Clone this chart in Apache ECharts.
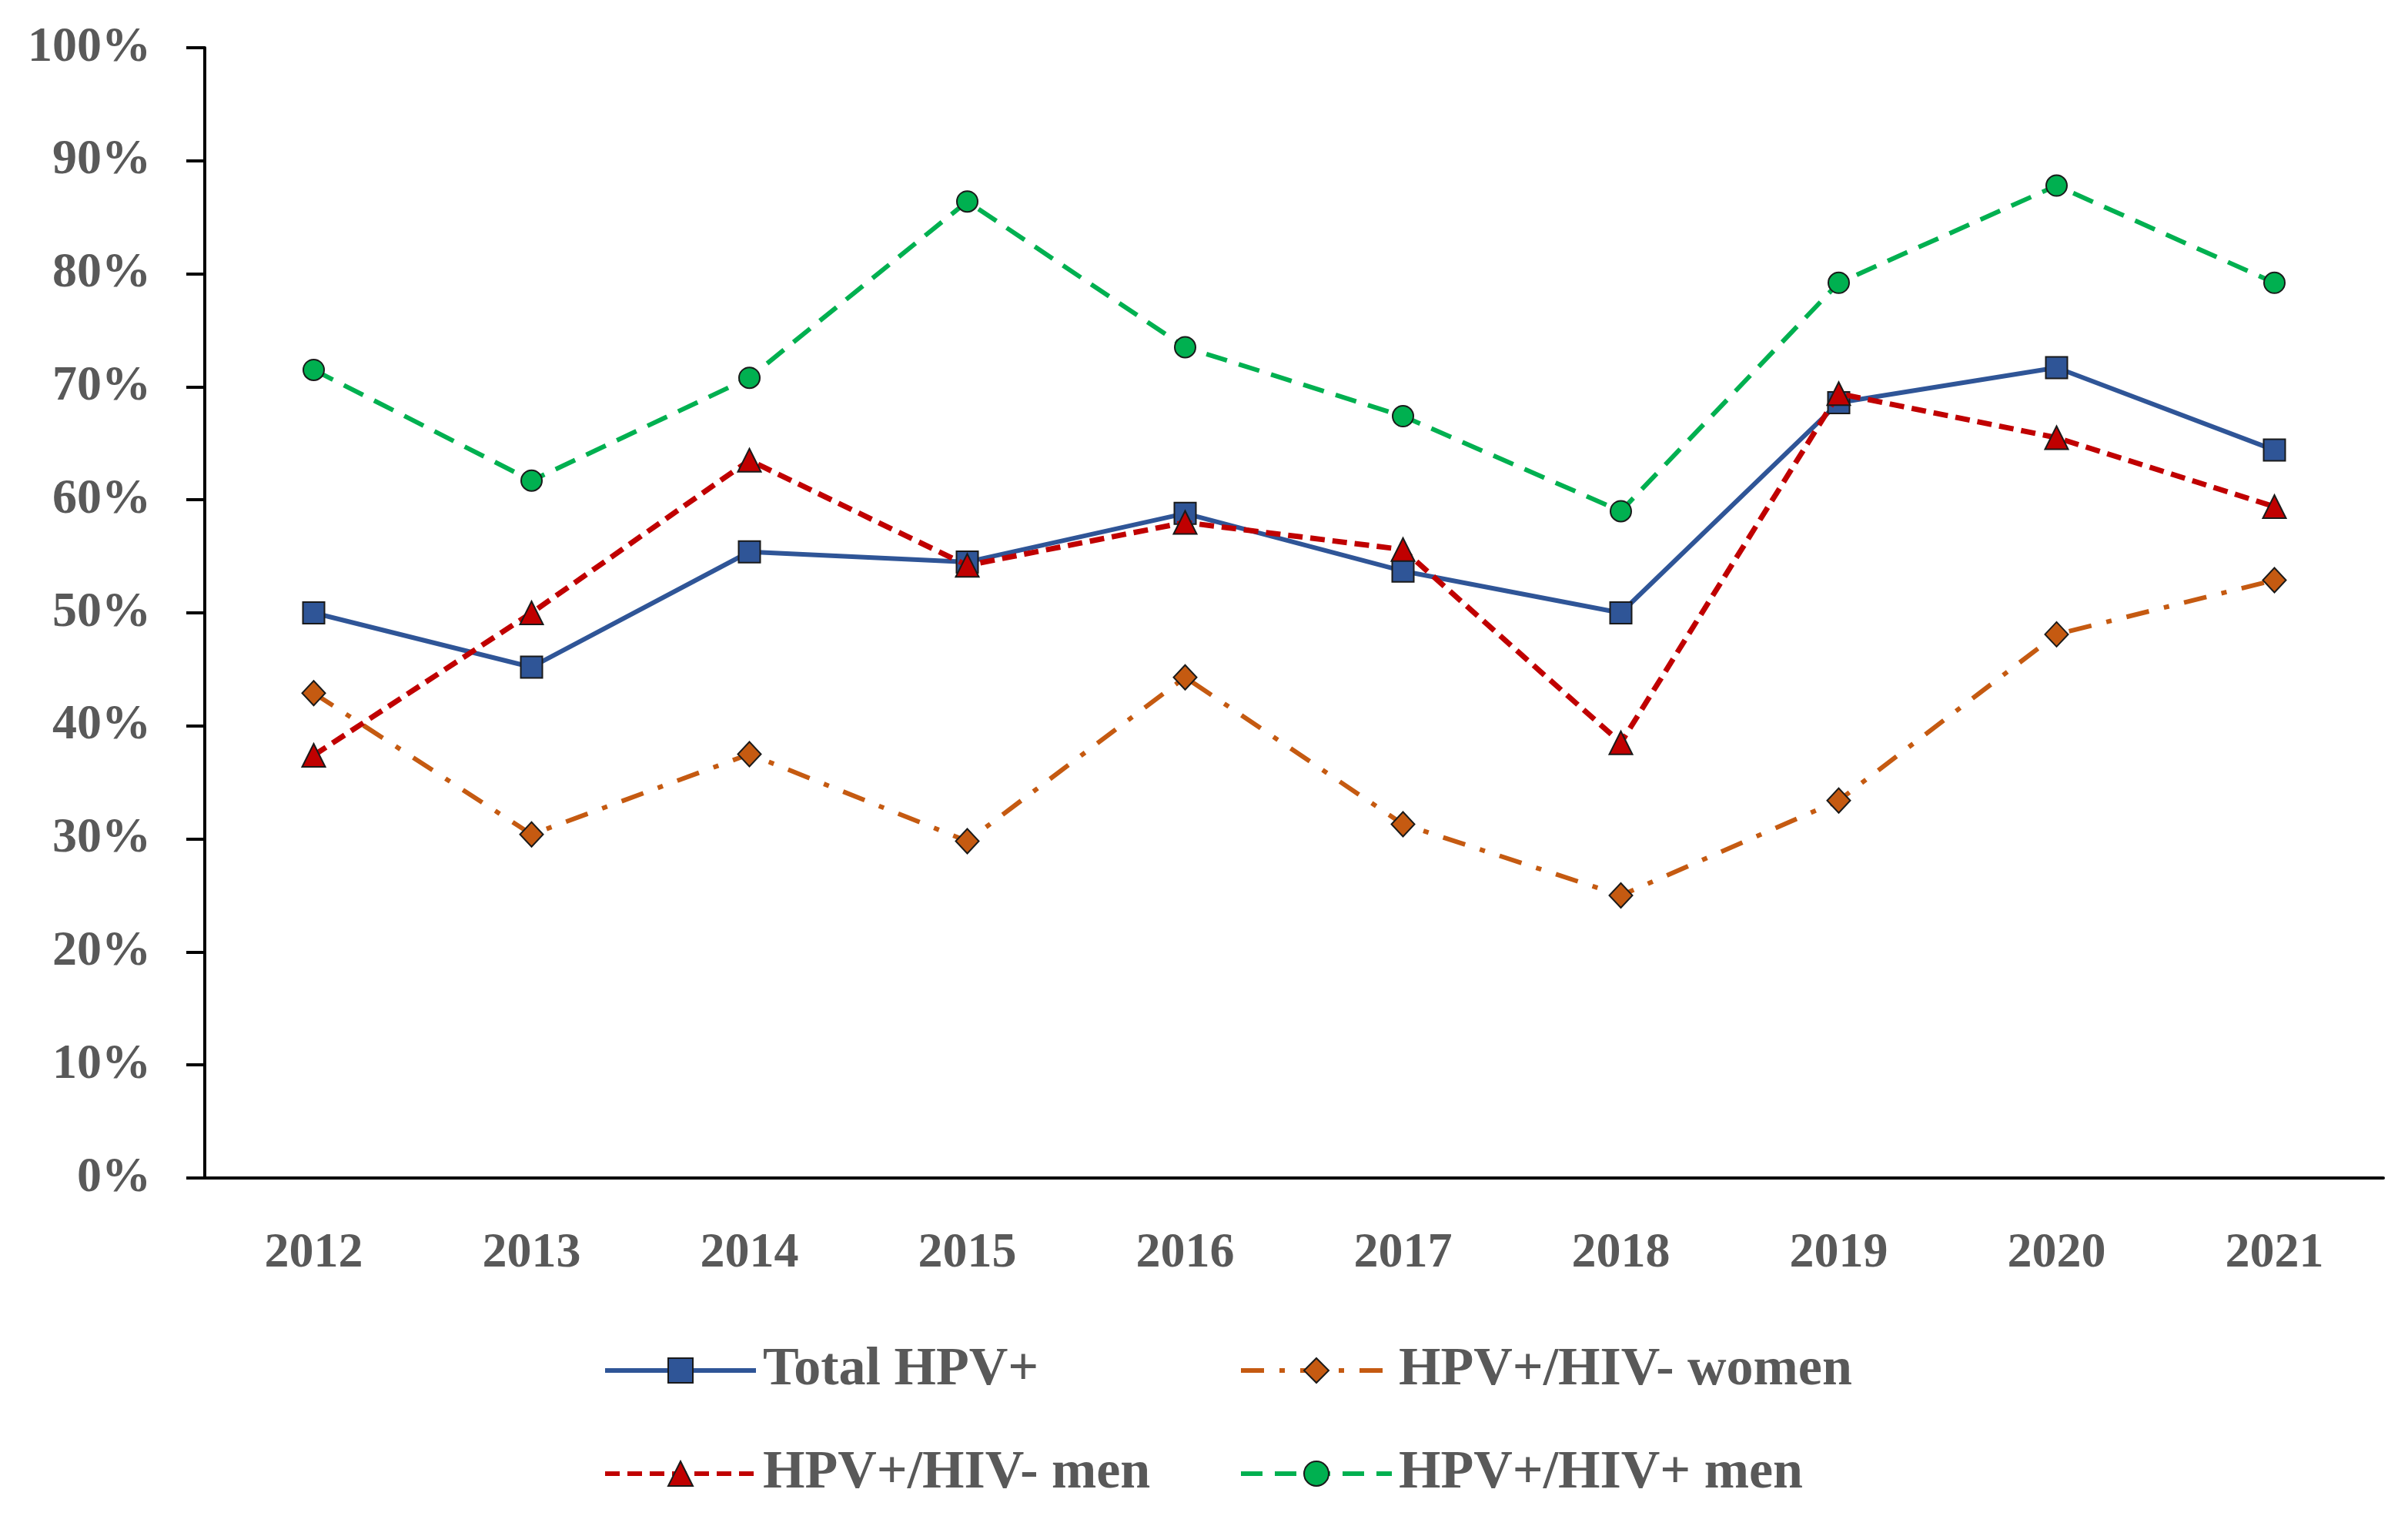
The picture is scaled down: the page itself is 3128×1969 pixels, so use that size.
<!DOCTYPE html>
<html>
<head>
<meta charset="utf-8">
<script src="https://cdn.jsdelivr.net/npm/echarts@6/dist/echarts.min.js"></script>
<style>
html,body{margin:0;padding:0;background:#fff;}
#chart{width:3128px;height:1969px;}
</style>
</head>
<body>
<div id="chart"></div>
<script>
const years = ['2012','2013','2014','2015','2016','2017','2018','2019','2020','2021'];
const totalHPV = [50.0, 45.2, 55.4, 54.5, 58.8, 53.7, 50.0, 68.6, 71.7, 64.4];
const hivNegWomen = [42.9, 30.4, 37.5, 29.8, 44.3, 31.3, 25.0, 33.4, 48.1, 52.9];
const hivNegMen = [37.4, 50.0, 63.5, 54.2, 58.0, 55.6, 38.5, 69.4, 65.5, 59.4];
const hivPosMen = [71.5, 61.7, 70.8, 86.4, 73.5, 67.4, 59.0, 79.2, 87.8, 79.2];
const seriesNames = ['Total HPV+', 'HPV+/HIV- women', 'HPV+/HIV- men', 'HPV+/HIV+ men'];

const FONT = 'Liberation Serif';
const TXT = '#595959';
const chart = echarts.init(document.getElementById('chart'), null, {renderer: 'canvas'});

function legendAt(name, left, top) {
  return {
    data: [name], left: left, top: top, orient: 'horizontal',
    itemWidth: 196, itemHeight: 40, itemGap: 0,
    lineStyle: {width: 6},
    textStyle: {fontFamily: FONT, fontWeight: 'bold', fontSize: 70, color: TXT, padding: [0,0,0,4]},
    selectedMode: false
  };
}

const option = {
  backgroundColor: '#ffffff',
  animation: false,
  grid: {left: 266, right: 32, top: 62, bottom: 439, containLabel: false},
  legend: [
    legendAt(seriesNames[0], 778, 1740),
    legendAt(seriesNames[1], 1604, 1740),
    legendAt(seriesNames[2], 778, 1874),
    legendAt(seriesNames[3], 1604, 1874)
  ],
  xAxis: {
    type: 'category', data: years, boundaryGap: true,
    axisLine: {lineStyle: {color: '#000', width: 4}},
    axisTick: {show: false},
    axisLabel: {fontFamily: FONT, fontWeight: 'bold', fontSize: 64, color: TXT, margin: 66}
  },
  yAxis: {
    type: 'value', min: 0, max: 100, interval: 10,
    splitLine: {show: false},
    axisLine: {show: true, lineStyle: {color: '#000', width: 4}},
    axisTick: {show: true, length: 24, lineStyle: {color: '#000', width: 4}},
    axisLabel: {fontFamily: FONT, fontWeight: 'bold', fontSize: 64, color: TXT, margin: 70, formatter: '{value}%'}
  },
  series: [
    {
      name: seriesNames[0], type: 'line', data: totalHPV, z: 3,
      symbol: 'rect', symbolSize: 28,
      lineStyle: {color: '#2F5597', width: 6, type: 'solid'},
      itemStyle: {color: '#2F5597', borderColor: '#1a1a1a', borderWidth: 2}
    },
    {
      name: seriesNames[1], type: 'line', data: hivNegWomen, z: 2,
      symbol: 'diamond', symbolSize: [30, 32],
      lineStyle: {color: '#C55A11', width: 6, type: [30, 20, 7, 20], cap: 'butt'},
      itemStyle: {color: '#C55A11', borderColor: '#1a1a1a', borderWidth: 2}
    },
    {
      name: seriesNames[2], type: 'line', data: hivNegMen, z: 4,
      symbol: 'triangle', symbolSize: [30, 30],
      lineStyle: {color: '#C00000', width: 7, type: [19, 10], cap: 'butt'},
      itemStyle: {color: '#C00000', borderColor: '#1a1a1a', borderWidth: 2}
    },
    {
      name: seriesNames[3], type: 'line', data: hivPosMen, z: 2,
      symbol: 'circle', symbolSize: 27,
      lineStyle: {color: '#00B050', width: 6, type: [28, 16], cap: 'butt'},
      itemStyle: {color: '#00B050', borderColor: '#1a1a1a', borderWidth: 2}
    }
  ]
};
chart.setOption(option);
</script>
</body>
</html>
